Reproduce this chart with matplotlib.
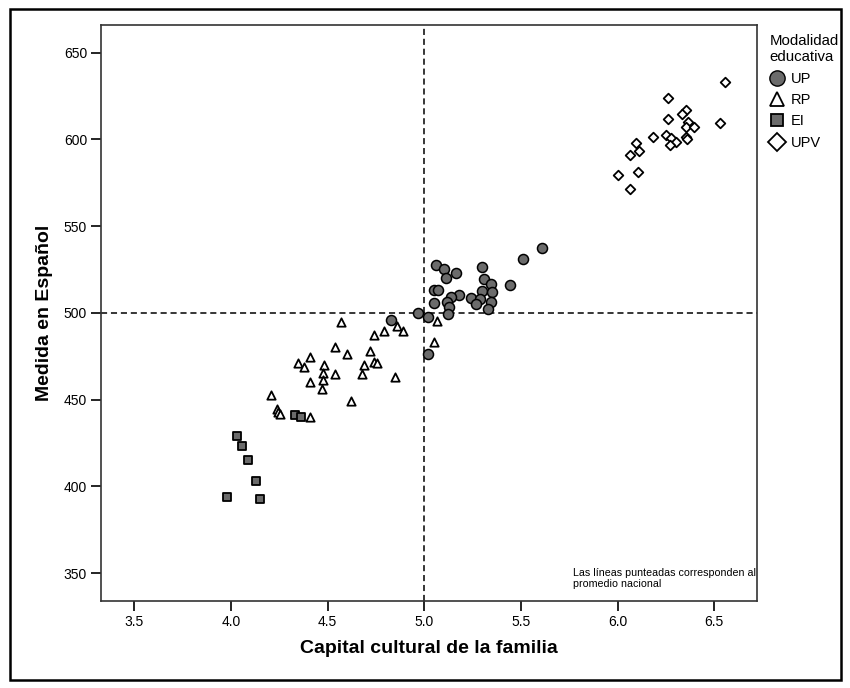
import matplotlib
matplotlib.use("Agg")
import matplotlib.pyplot as plt
from matplotlib.patches import Rectangle
from matplotlib.lines import Line2D

plt.rcParams['font.family'] = ['Liberation Sans', 'DejaVu Sans']

# UP: circles
up_x = [5.610, 5.511, 5.062, 5.298, 5.104, 5.163, 5.110, 5.309, 5.343, 5.441,
        5.048, 5.070, 5.298, 5.351, 5.180, 5.140, 5.242, 5.287, 5.118, 5.343,
        5.051, 5.267, 5.129, 5.331, 4.966, 5.020, 5.121, 4.829, 5.020]
up_y = [537.3, 531.2, 527.4, 526.4, 525.6, 522.8, 520.3, 519.3, 516.8, 516.0,
        513.5, 513.5, 512.4, 511.9, 510.4, 509.4, 508.6, 507.9, 506.3, 506.3,
        505.8, 505.1, 503.3, 502.5, 500.2, 497.5, 499.2, 496.2, 476.1]

# RP: triangles
rp_x = [4.567, 5.065, 4.857, 4.792, 4.890, 4.739, 5.048, 4.539, 4.719, 4.598,
        4.410, 4.346, 4.739, 4.758, 4.688, 4.376, 4.480, 4.410, 4.475, 4.539,
        4.680, 4.475, 4.469, 4.851, 4.621, 4.208, 4.239, 4.244, 4.256, 4.410]
rp_y = [495.0, 495.2, 492.4, 489.4, 489.4, 487.5, 483.1, 480.1, 477.8, 476.1,
        474.6, 471.3, 471.6, 470.9, 469.9, 468.9, 470.2, 460.2, 465.2, 464.9,
        464.8, 461.2, 456.4, 462.8, 449.2, 452.8, 444.5, 443.2, 441.8, 440.2]

# EI: squares
ei_x = [4.329, 4.361, 4.033, 4.058, 4.088, 4.130, 3.978, 4.149]
ei_y = [441.0, 439.8, 428.9, 423.2, 415.5, 402.9, 394.2, 392.8]

# UPV: diamonds
upv_x = [6.553, 6.260, 6.354, 6.331, 6.262, 6.531, 6.365, 6.351, 6.393, 6.250,
         6.183, 6.275, 6.351, 6.357, 6.303, 6.272, 6.093, 6.112, 6.062, 6.104,
         6.000, 6.062]
upv_y = [633.2, 623.9, 617.0, 614.5, 611.9, 609.4, 609.9, 607.4, 606.9, 602.3,
         601.5, 600.8, 601.5, 600.5, 598.5, 596.7, 598.0, 593.4, 591.1, 581.2,
         579.4, 571.6]

mean_x = 5.0
mean_y = 500

fig = plt.figure(figsize=(8.5, 6.88), dpi=100)
ax = fig.add_axes([0.1188, 0.1262, 0.7721, 0.8379])

ax.axvline(mean_x, color='black', linestyle=(0, (4, 2.5)), linewidth=1.1, zorder=1)
ax.axhline(mean_y, color='black', linestyle=(0, (4, 2.5)), linewidth=1.1, zorder=1)

gray = '#6b6b6b'
ax.scatter(rp_x, rp_y, marker='^', s=36, facecolor='white', edgecolor='black', linewidth=1.3, zorder=3)
ax.scatter(ei_x, ei_y, marker='s', s=26, facecolor=gray, edgecolor='black', linewidth=1.3, zorder=3)
ax.scatter(upv_x, upv_y, marker='D', s=24, facecolor='white', edgecolor='black', linewidth=1.3, zorder=3)
ax.scatter(up_x, up_y, marker='o', s=52, facecolor=gray, edgecolor='black', linewidth=1.1, zorder=4)

ax.set_xlim(3.328, 6.722)
ax.set_ylim(333.9, 666.1)
ax.set_xticks([3.5, 4.0, 4.5, 5.0, 5.5, 6.0, 6.5])
ax.set_xticklabels(['3.5', '4.0', '4.5', '5.0', '5.5', '6.0', '6.5'])
ax.set_yticks([350, 400, 450, 500, 550, 600, 650])
ax.tick_params(direction='out', length=7, width=1.2, labelsize=10, pad=3)
for s in ax.spines.values():
    s.set_linewidth(1.2)
    s.set_color('#333333')

ax.set_xlabel('Capital cultural de la familia', fontsize=14, fontweight='bold', labelpad=8)
ax.set_ylabel('Medida en Español', fontsize=14, fontweight='bold', labelpad=8)

ax.text(0.719, 0.058, 'Las líneas punteadas corresponden al\npromedio nacional',
        transform=ax.transAxes, fontsize=7.7, va='top', ha='left', linespacing=1.15)

handles = [
    Line2D([0], [0], marker='o', color='none', markerfacecolor=gray, markeredgecolor='black', markersize=11, label='UP'),
    Line2D([0], [0], marker='^', color='none', markerfacecolor='white', markeredgecolor='black', markeredgewidth=1.3, markersize=10, label='RP'),
    Line2D([0], [0], marker='s', color='none', markerfacecolor=gray, markeredgecolor='black', markeredgewidth=1.3, markersize=8, label='EI'),
    Line2D([0], [0], marker='D', color='none', markerfacecolor='white', markeredgecolor='black', markeredgewidth=1.3, markersize=9, label='UPV'),
]
fig.legend(handles=handles, title='Modalidad\neducativa', loc='upper left',
           bbox_to_anchor=(0.893, 0.965), frameon=False, fontsize=10.5,
           title_fontsize=10.8, alignment='left', handlelength=1.0,
           handletextpad=0.5, labelspacing=0.5, borderpad=0.2)

fig.patches.append(Rectangle((0.0118, 0.0116), 0.978, 0.976, transform=fig.transFigure,
                             fill=False, edgecolor='black', linewidth=1.8))

fig.savefig('out.png', dpi=100)
